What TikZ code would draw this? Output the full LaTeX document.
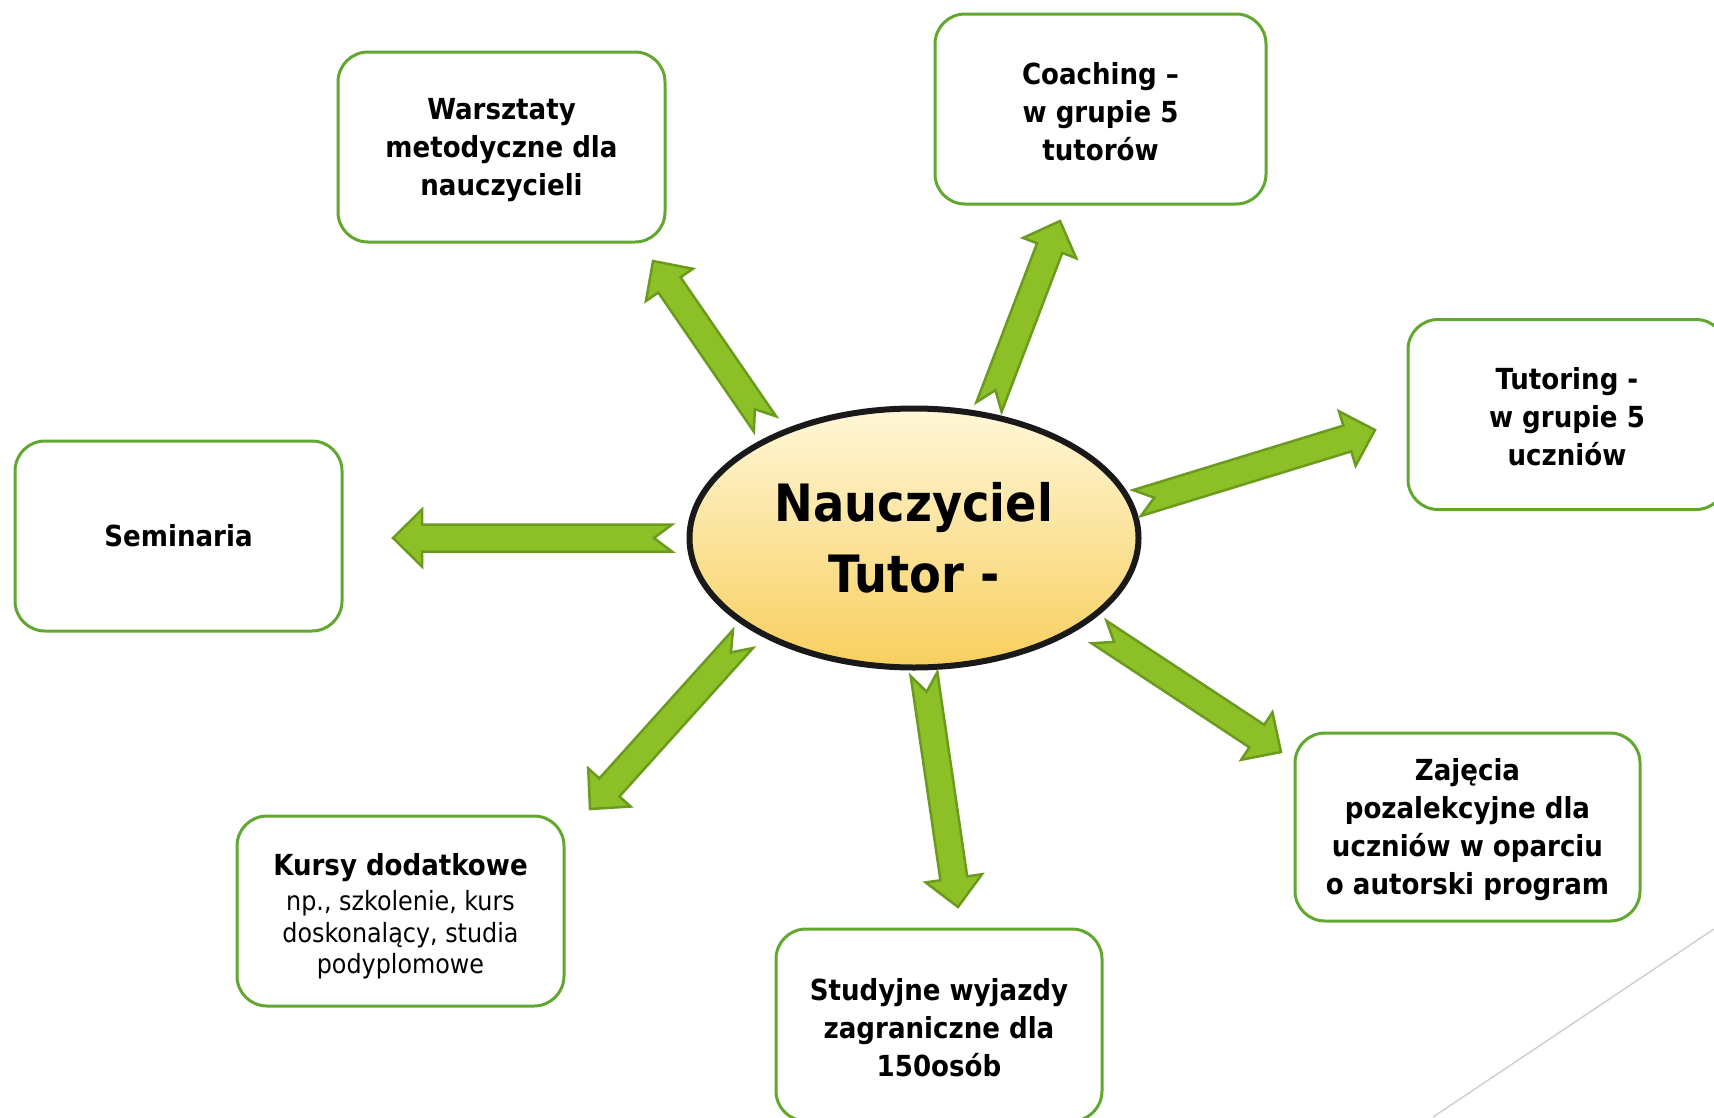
\documentclass[tikz,border=0pt]{standalone}
\usepackage{fontspec}
\setmainfont{DejaVu Sans Condensed}
\usetikzlibrary{shapes.geometric,calc}
\definecolor{boxgreen}{HTML}{62A830}
\definecolor{arrowfill}{HTML}{8DC026}
\definecolor{arrowline}{HTML}{6A9A1E}
\definecolor{elltop}{HTML}{FFF7D8}
\definecolor{ellbot}{HTML}{F8CF5E}
\newcommand\fatarrow[2]{%
  \draw[fatarrowstyle]
    ($(#1)!13.5pt!90:(#2)$) -- ($(#1)!18pt!(#2)$) -- ($(#1)!13.5pt!-90:(#2)$)
    -- ($(#2)!29pt!(#1)!13.5pt!90:(#1)$) -- ($(#2)!29pt!(#1)!28.5pt!90:(#1)$)
    -- (#2)
    -- ($(#2)!29pt!(#1)!28.5pt!-90:(#1)$) -- ($(#2)!29pt!(#1)!13.5pt!-90:(#1)$)
    -- cycle;}
\newcommand\smalltxt{\fontsize{26.5}{31.5}\selectfont\mdseries}
\begin{document}
\begin{tikzpicture}[x=1pt,y=-1pt,
  box/.style={draw=boxgreen, line width=3pt, rounded corners=30pt, fill=white,
    align=center, inner sep=0pt, minimum width=327pt, minimum height=190pt,
    font=\fontsize{29}{38}\selectfont\bfseries},
  fatarrowstyle/.style={fill=arrowfill, draw=arrowline, line width=2.5pt, line join=miter}]
\useasboundingbox (0,0) rectangle (1714,1117);
\draw[black!18, line width=1.5pt] (1433,1117) -- (1714,929);

\node[box] (warsztaty) at (501.5,147) {\strut Warsztaty\\metodyczne dla\\nauczycieli};
\node[box, minimum width=331pt] (coaching) at (1100.5,109) {\strut Coaching –\\w grupie 5\\tutorów};
\node[box, minimum width=318pt] (tutoring) at (1567,414.5) {\strut Tutoring -\\w grupie 5\\uczniów};
\node[box] (seminaria) at (178.5,536) {Seminaria};
\node[box] (kursy) at (400.5,911) {\rule{0pt}{33pt}Kursy dodatkowe\\[-3pt]\smalltxt np., szkolenie, kurs\\[-6.5pt]\smalltxt doskonalący, studia\\[-6.5pt]\smalltxt podyplomowe};
\node[box, minimum width=326pt, minimum height=192pt] (studyjne) at (939,1025) {\strut Studyjne wyjazdy\\zagraniczne dla\\150osób};
\node[box, minimum width=345pt, minimum height=188pt] (zajecia) at (1467.5,827) {\strut Zajęcia\\pozalekcyjne dla\\uczniów w oparciu\\o autorski program};

\node[ellipse, draw=black!90, line width=6pt, minimum width=449pt, minimum height=259pt,
  top color=elltop, bottom color=ellbot, align=center, inner sep=0pt,
  font=\fontsize{51.5}{71}\selectfont\bfseries] (tutor) at (914,538) {Nauczyciel\\Tutor -};

\coordinate (a1) at (765,424); \coordinate (b1) at (653,261);
\coordinate (a2) at (989,407); \coordinate (b2) at (1060,221);
\coordinate (a3) at (1137,503); \coordinate (b3) at (1375,430);
\coordinate (a4) at (672,538); \coordinate (b4) at (393,538);
\coordinate (a5) at (743,639); \coordinate (b5) at (590,809);
\coordinate (a6) at (924,674); \coordinate (b6) at (958,907);
\coordinate (a7) at (1099,632); \coordinate (b7) at (1281,752);
\fatarrow{a1}{b1}
\fatarrow{a2}{b2}
\fatarrow{a3}{b3}
\fatarrow{a4}{b4}
\fatarrow{a5}{b5}
\fatarrow{a6}{b6}
\fatarrow{a7}{b7}
\end{tikzpicture}
\end{document}
